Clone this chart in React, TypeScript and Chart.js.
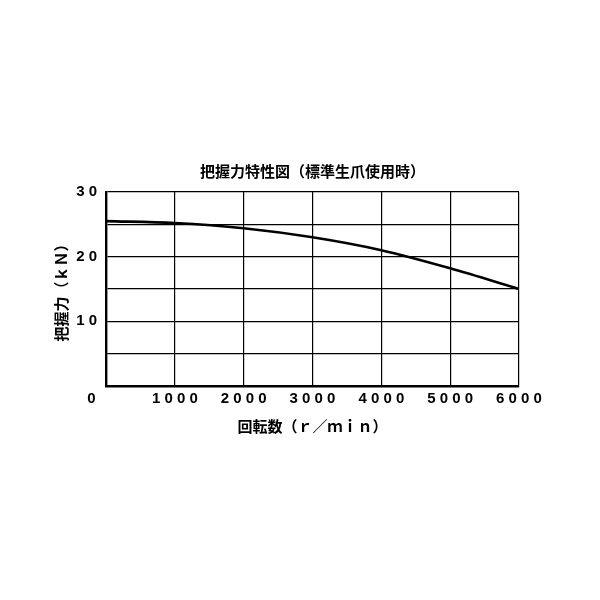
import React, { useEffect, useRef } from 'react';
import { Chart, registerables } from 'chart.js';

Chart.register(...registerables);

// chart text
const TITLE = '把握力特性図（標準生爪使用時）';
const X_TITLE = '回転数（ｒ／ｍｉｎ）';
const Y_TITLE = '把握力（ｋＮ）';

// data
const SPEEDS = [0, 1000, 2000, 3000, 4000, 5000, 6000];
const FORCES = [25.5, 25.2, 24.4, 23.0, 21.0, 18.2, 15.0];
const Y_LABELED = [10, 20, 30];

const CJK = '"Noto Sans CJK JP", "Noto Sans", sans-serif';
const DIGITS = '"Liberation Sans", Arial, sans-serif';

// the reference prints digits spread apart: "1 0 0 0"
const spaced = (v: number) => String(v).split('').join(' ');

const App: React.FC = () => {
  const canvasRef = useRef<HTMLCanvasElement | null>(null);
  const chartRef = useRef<Chart | null>(null);

  useEffect(() => {
    const canvas = canvasRef.current;
    if (!canvas) return;
    const ctx = canvas.getContext('2d');
    if (!ctx) return;
    if (chartRef.current) chartRef.current.destroy();

    chartRef.current = new Chart(ctx, {
      type: 'line',
      data: {
        datasets: [
          {
            data: SPEEDS.map((s, i) => ({ x: s, y: FORCES[i] })),
            borderColor: '#000',
            borderWidth: 2.6,
            pointRadius: 0,
            cubicInterpolationMode: 'monotone',
            fill: false,
          },
        ],
      },
      options: {
        animation: false,
        responsive: false,
        layout: { padding: { left: 0, top: 162, right: 81, bottom: 165 } },
        plugins: {
          legend: { display: false },
          tooltip: { enabled: false },
          title: {
            display: true,
            text: TITLE,
            fullSize: false,
            color: '#000',
            font: { family: CJK, size: 15, weight: 'bold' },
            padding: { top: 0, bottom: 12 },
          },
        },
        scales: {
          x: {
            type: 'linear',
            min: 0,
            max: 6000,
            afterFit: (scale: any) => {
              scale.height = 49;
            },
            ticks: {
              stepSize: 1000,
              maxRotation: 0,
              autoSkip: false,
              padding: 4,
              color: '#000',
              font: { family: DIGITS, size: 15, weight: 'bold' },
              // the "0" sits left of the axis corner in the reference
              callback: (v: any) => (Number(v) === 0 ? '0' + ' '.repeat(7) : spaced(Number(v))),
            },
            grid: { color: '#000', lineWidth: 1.2, drawTicks: false },
            border: { color: '#000', width: 2.4 },
            title: {
              display: true,
              text: X_TITLE,
              color: '#000',
              font: { family: CJK, size: 15, weight: 'bold' },
              padding: { top: 0, bottom: 0 },
            },
          },
          y: {
            min: 0,
            max: 30,
            afterFit: (scale: any) => {
              scale.width = 106;
            },
            ticks: {
              stepSize: 5,
              autoSkip: false,
              padding: 9,
              color: '#000',
              font: { family: DIGITS, size: 15, weight: 'bold' },
              callback: (v: any) => (Y_LABELED.includes(Number(v)) ? spaced(Number(v)) : ''),
            },
            grid: { color: '#000', lineWidth: 1.2, drawTicks: false },
            border: { color: '#000', width: 2.4 },
            title: {
              display: true,
              text: Y_TITLE,
              color: '#000',
              font: { family: CJK, size: 15, weight: 'bold' },
              padding: { top: 52, bottom: 0 },
            },
          },
        },
      },
    });

    return () => {
      if (chartRef.current) chartRef.current.destroy();
      chartRef.current = null;
    };
  }, []);

  return (
    <div style={{ position: 'fixed', left: 0, top: 0, width: 600, height: 600, background: '#fff' }}>
      <canvas ref={canvasRef} width={600} height={600} style={{ width: 600, height: 600 }}></canvas>
    </div>
  );
};

export default App;
